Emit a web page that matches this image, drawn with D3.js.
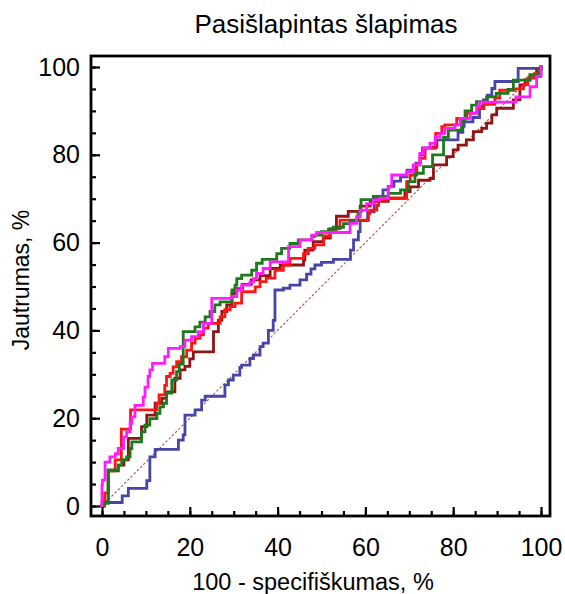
<!DOCTYPE html>
<html><head><meta charset="utf-8">
<script src="https://cdn.jsdelivr.net/npm/d3@7/dist/d3.min.js"></script>
<style>
body{margin:0;background:#fff}
svg{display:block}
text{font-family:"Liberation Sans",Arial,Helvetica,sans-serif;fill:#000}
</style>
</head><body>
<svg id="chart" width="565" height="594"></svg>
<script>
// ---------- data ----------
const chartTitle = "Pasišlapintas šlapimas";
const xAxisTitle = "100 - specifiškumas, %";
const yAxisTitle = "Jautrumas, %";
const majorTicks = [0, 20, 40, 60, 80, 100];
const minorTicks = [0, 5, 10, 15, 20, 25, 30, 35, 40, 45, 50, 55, 60, 65, 70, 75, 80, 85, 90, 95, 100];
const seriesNames = ["blue", "maroon", "red", "green", "magenta"];
const seriesColors = ["#4646a8", "#8e1616", "#ff1414", "#1c7a1c", "#ff1cff"];
const diagonal = [[0, 0], [100, 100]];

// each point: move horizontally to x, then vertically to y (ROC staircase)
const blueROC = [[0,0],[0,0.8],[4.6,2.3],[6,4],[10.2,5.8],[10.9,11.2],[12.1,12.9],[17.4,15],[18.5,16.2],[18.9,20.7],[21.2,21.9],[22.7,24.1],[23.5,25],[28,27.6],[28.8,28.7],[29.9,29.8],[31.4,31.6],[31.8,32.1],[33.7,33.6],[34.5,34.4],[36,36.3],[36.7,37.1],[37.9,40],[39,42.3],[39.4,49.2],[41.3,49.6],[42.8,50.3],[45.1,51.5],[46.6,52.8],[47.6,54],[48.5,54.9],[50,55.5],[52.7,56.2],[56.6,58.3],[57.3,60.6],[58.4,62.5],[58.8,65],[60.5,67],[62,70],[64,72],[65.2,72.8],[66.5,74],[68,75],[69.5,76.5],[71.5,78.1],[72.5,80],[73,81.6],[75.5,81.8],[76.3,83.4],[81.1,85.1],[82.2,86.5],[82.5,87.5],[84.5,88.5],[86,91],[86.9,92.5],[87.8,93.6],[88.8,95.1],[89.5,96.7],[94.8,99.7],[100,100]];
const maroonROC = [[0,0],[0.3,1],[1.4,8],[3.7,9.3],[5,10.5],[6,11.6],[6,15.4],[9,15.8],[9,18.1],[10.2,20.7],[12.1,23.4],[13.6,24.5],[14.7,26],[16.6,29.1],[17.8,31],[18.9,31.8],[20,33.5],[20.8,35.1],[25.4,39.7],[26.5,42.3],[27.3,44.3],[28.4,45.8],[29.6,48.4],[30.3,49.5],[32,50.5],[34,51.5],[36,52.5],[38.3,54.1],[40.6,54.9],[45.9,56],[46.2,58.3],[48.1,60.2],[50.4,61],[52,63],[53.4,66],[56.1,67.1],[58.8,68.3],[61.1,69.4],[65.2,70.1],[69,71.6],[70.2,72.7],[72.1,74.2],[74.7,74.6],[75.5,77.7],[78.5,79.6],[80,81.1],[81.1,82.2],[83,83.4],[84.6,85.3],[86.5,86],[87.6,87.2],[88.8,89.1],[89.9,90.6],[93.7,92.5],[95.2,95.9],[96.4,97.1],[97.5,98.2],[99,99.4],[100,100]];
const redROC = [[0,0],[0.6,3],[1.5,8],[3,10.5],[4.4,17.5],[6.5,21.9],[12.5,23.4],[13,25.3],[14.3,27.5],[14.7,29.5],[15.5,30.2],[16.2,31.7],[17,32.9],[18.1,34],[19.3,35.5],[20.4,37.1],[21.2,38.2],[22.3,39],[23.1,40.5],[24.2,41.6],[26.9,43.1],[28,44.7],[29.2,45.4],[30.3,46.2],[31.8,48.8],[34.9,49.9],[36,51.1],[37.4,51.9],[39.4,53.7],[41.3,54.9],[42.8,56.4],[45.9,57.5],[47,58.7],[48.5,59.5],[50.5,61.5],[51.9,63.2],[54.2,65.1],[60.7,66.6],[61,67.4],[62.6,68.5],[63,69.7],[64.9,70.1],[69.4,73.9],[70.2,75.4],[71.7,77.7],[72.4,79.2],[73.6,81.5],[76,84.9],[77.4,86.4],[78.1,86.8],[80.8,88.3],[83.1,89.5],[85.4,90.5],[87,91.5],[89.5,92.9],[90.6,94.7],[94,95],[96,96],[97,97.5],[98.5,98.5],[100,100]];
const greenROC = [[0,0],[0.3,0.6],[1.4,8.2],[3.7,9.3],[4.5,10.5],[5.6,11.2],[6.4,13.1],[6.8,14.6],[9,16.9],[9.8,18.4],[10.9,19.9],[12.5,21.1],[13.2,22.6],[14,23.4],[14.7,25.7],[15.9,28.7],[17,30.6],[17.6,32.3],[18.5,39.7],[21.2,40.8],[22.3,41.9],[23.5,43.1],[24.6,44.3],[25.7,45.8],[26.9,46.5],[29.6,49.2],[30.3,50.3],[30.7,51.8],[31.8,52.6],[34.1,53.7],[35.2,55.3],[36.5,56.2],[39.8,57.5],[40.9,58.7],[42.8,59.8],[44.7,60.6],[47.8,61.4],[48.5,61.7],[50,62.5],[51.6,63],[52.7,63.5],[55,64.3],[56.5,65],[58.3,67],[59,69.8],[61.8,70.5],[65.2,71.2],[68,72],[69.8,73.9],[71.3,75.8],[73.2,77.3],[75.3,80],[77.8,84],[78.9,85.6],[81.9,88],[82.7,90],[84.2,91.3],[85.3,92.1],[87.6,93.2],[89.8,94],[92.5,94.9],[93.7,97],[97.5,98.2],[99.4,99.4],[100,100]];
const magentaROC = [[0,0],[0,4.8],[0.1,5.9],[0.7,10],[1.8,11.2],[3,11.9],[3.7,13.1],[4.9,15.7],[5.6,16.9],[6.4,18.8],[6.8,20.3],[7.5,22.9],[9.4,24.8],[9.8,27.1],[10.5,29.5],[10.9,31],[11.5,32.5],[14.3,34],[15.1,35.9],[17.8,36.3],[18.9,37.8],[20.4,38.6],[21.9,39.7],[23.1,41.6],[25,47.3],[29.5,47.7],[30.7,49.2],[31.8,50.3],[33.7,51],[34.5,51.8],[35.2,53],[36.7,54.1],[38.3,55.6],[42.5,59.1],[45.1,60.6],[47.8,61.7],[48.9,62.3],[56.5,64.4],[58,65.9],[58.8,67.4],[60.3,68.9],[61.8,69.7],[63.3,70.1],[65.2,72.7],[66,75.4],[69.4,76.2],[70.9,77.7],[72.4,80.3],[73.2,81.5],[74.7,82.6],[75.9,84.1],[77,84.9],[78.1,86],[80.4,86.8],[81.6,88.3],[83.9,89.5],[85.4,91],[86,92],[94.3,93.2],[97.5,95.5],[99,97.8],[100,100]];
const seriesData = [blueROC, maroonROC, redROC, greenROC, magentaROC];

// ---------- layout ----------
const svg = d3.select("#chart");
const x = d3.scaleLinear().domain([0, 100]).range([102, 541]);
const y = d3.scaleLinear().domain([0, 100]).range([506, 67]);
const frame = {left: 91, right: 550, top: 56, bottom: 516};
const tickFont = 25;

// diagonal reference
svg.append("path")
  .attr("d", d3.line().x(d => x(d[0])).y(d => y(d[1]))(diagonal))
  .attr("fill", "none").attr("stroke", "#c05a5a").attr("stroke-width", 1.2)
  .attr("stroke-dasharray", "2.5,2");

// ROC curves
const line = d3.line().x(d => x(d[0])).y(d => y(d[1])).curve(d3.curveStepAfter);
seriesData.forEach((s, i) => {
  svg.append("path")
    .attr("class", "roc-" + seriesNames[i])
    .attr("d", line(s))
    .attr("fill", "none")
    .attr("stroke", seriesColors[i])
    .attr("stroke-width", 2.8)
    .attr("stroke-linejoin", "miter")
    .attr("stroke-linecap", "square");
});

// frame
svg.append("rect")
  .attr("x", frame.left).attr("y", frame.top)
  .attr("width", frame.right - frame.left).attr("height", frame.bottom - frame.top)
  .attr("fill", "none").attr("stroke", "#000").attr("stroke-width", 2.8);

// axes (ticks pointing inward)
function styleAxis(g) {
  g.select(".domain").remove();
  g.selectAll(".tick line").attr("stroke", "#000").attr("stroke-width", 2.2);
  g.selectAll("text").attr("font-size", tickFont).attr("font-family", '"Liberation Sans",Arial,sans-serif').attr("fill", "#000");
}
svg.append("g").attr("transform", `translate(${frame.left},0)`)
  .call(d3.axisLeft(y).tickValues(minorTicks).tickSize(-5).tickFormat("")).call(styleAxis);
svg.append("g").attr("transform", `translate(${frame.left},0)`)
  .call(d3.axisLeft(y).tickValues(majorTicks).tickSize(-9).tickPadding(11).tickFormat(d3.format("d"))).call(styleAxis);
svg.append("g").attr("transform", `translate(0,${frame.bottom})`)
  .call(d3.axisBottom(x).tickValues(minorTicks).tickSize(-5).tickFormat("")).call(styleAxis);
svg.append("g").attr("transform", `translate(0,${frame.bottom})`)
  .call(d3.axisBottom(x).tickValues(majorTicks).tickSize(-9).tickPadding(22).tickFormat(d3.format("d"))).call(styleAxis);

// titles
svg.append("text").attr("x", 326).attr("y", 33).attr("text-anchor", "middle")
  .attr("font-size", 26).text(chartTitle);
svg.append("text").attr("x", 313).attr("y", 590).attr("text-anchor", "middle")
  .attr("font-size", 23.5).text(xAxisTitle);
svg.append("text").attr("transform", "translate(29,280) rotate(-90)").attr("text-anchor", "middle")
  .attr("font-size", 23).text(yAxisTitle);
</script>
</body></html>
